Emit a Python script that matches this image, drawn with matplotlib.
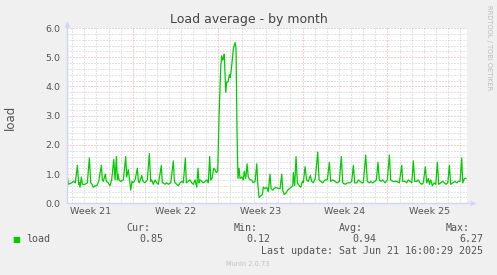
import matplotlib
matplotlib.use('Agg')
import matplotlib.pyplot as plt
from datetime import datetime, timedelta

# days since start of the window, and load average
days = [0.00, 0.14, 0.41, 0.55, 0.71, 0.88, 0.99, 1.04, 1.10, 1.21, 1.29, 1.51, 1.70, 1.87, 1.98,
        2.09, 2.20, 2.33, 2.48, 2.64, 2.86, 2.94, 3.02, 3.19, 3.27, 3.43, 3.57, 3.71, 3.88, 3.99,
        4.10, 4.18, 4.23, 4.32, 4.46, 4.67, 4.87, 4.95, 5.08, 5.22, 5.28, 5.39, 5.50, 5.64, 5.83,
        5.91, 5.99, 6.19, 6.30, 6.46, 6.65, 6.82, 6.93, 7.01, 7.15, 7.29, 7.43, 7.56, 7.81, 7.89,
        7.97, 8.11, 8.25, 8.38, 8.58, 8.80, 8.88, 8.94, 9.08, 9.21, 9.35, 9.49, 9.62, 9.79, 9.87,
        10.03, 10.17, 10.31, 10.45, 10.59, 10.73, 10.83, 10.92, 11.00, 11.14, 11.27, 11.41, 11.55,
        11.68, 11.80, 11.88, 11.99, 12.13, 12.24, 12.34, 12.46, 12.57, 12.71, 12.79, 12.87, 12.95,
        13.00, 13.12, 13.20, 13.31, 13.42, 13.50, 13.61, 13.75, 13.89, 13.97, 14.05, 14.13, 14.22,
        14.30, 14.44, 14.57, 14.65, 14.77, 14.88, 14.98, 15.12, 15.26, 15.40, 15.54, 15.68, 15.76,
        15.87, 16.01, 16.14, 16.22, 16.36, 16.50, 16.63, 16.77, 16.86, 17.00, 17.10, 17.27, 17.46,
        17.60, 17.74, 17.82, 17.95, 18.09, 18.23, 18.37, 18.51, 18.65, 18.70, 18.81, 18.92, 19.03,
        19.19, 19.31, 19.44, 19.52, 19.66, 19.80, 19.93, 20.10, 20.21, 20.35, 20.51, 20.71, 20.82,
        20.96, 21.12, 21.31, 21.50, 21.67, 21.78, 21.95, 22.14, 22.28, 22.49, 22.66, 22.77, 22.96,
        23.15, 23.37, 23.51, 23.65, 23.76, 23.93, 24.06, 24.20, 24.34, 24.47, 24.67, 24.80, 24.97,
        25.08, 25.25, 25.41, 25.55, 25.68, 25.79, 25.93, 26.07, 26.26, 26.45, 26.62, 26.73, 26.90,
        27.09, 27.23, 27.44, 27.64, 27.72, 27.91, 28.05, 28.18, 28.33, 28.47, 28.60, 28.71, 28.88,
        29.01, 29.15, 29.29, 29.42, 29.59, 29.70, 29.84, 29.92, 30.03, 30.17, 30.31, 30.45, 30.58,
        30.69, 30.86, 31.02, 31.16, 31.30, 31.44, 31.57, 31.68, 31.85, 32.04, 32.18, 32.31, 32.45,
        32.59, 32.67, 32.81, 32.95]
load = [1.10, 0.65, 0.70, 0.75, 0.70, 1.30, 0.65, 0.70, 0.55, 0.90, 0.65, 0.65, 0.70, 1.55, 0.70,
        0.65, 0.55, 0.60, 0.60, 0.75, 1.30, 0.80, 0.75, 1.00, 0.75, 0.70, 0.60, 0.80, 1.50, 0.80,
        1.60, 0.80, 1.00, 0.80, 0.75, 0.80, 1.60, 0.90, 1.15, 0.70, 0.45, 0.75, 0.70, 0.80, 1.20,
        0.75, 0.70, 0.95, 0.75, 0.70, 0.80, 1.70, 0.75, 0.80, 0.65, 0.80, 0.70, 0.65, 1.30, 0.70,
        0.70, 0.65, 0.70, 0.65, 0.70, 1.45, 0.80, 0.70, 0.65, 0.60, 0.70, 0.75, 0.70, 1.55, 0.70,
        0.75, 0.80, 0.70, 0.65, 0.80, 0.55, 1.20, 0.70, 0.80, 0.75, 0.70, 0.75, 0.80,
        0.70, 1.60, 0.80, 0.85, 1.20, 1.15, 1.05, 1.10, 3.00, 4.70, 5.05, 4.90, 5.00,
        5.10, 3.80, 4.15, 4.15, 4.40, 4.30, 4.70, 5.30, 5.50, 5.30, 2.50, 0.85, 1.20,
        0.85, 0.90, 0.80, 1.10, 0.85, 1.35, 0.90, 0.80, 0.80, 0.70, 0.75, 1.35, 0.70,
        0.20, 0.25, 0.30, 0.55, 0.50, 0.55, 0.40, 1.00, 0.50, 0.45, 0.50, 0.55, 0.50,
        0.50, 1.00, 0.45, 0.30, 0.35, 0.45, 0.50, 0.55, 0.60, 1.05, 0.60, 1.60, 0.70,
        0.60, 0.55, 0.75, 0.70, 1.25, 0.80, 0.75, 0.95, 0.75, 0.70, 0.85, 1.75, 0.80,
        0.75, 0.70, 0.80, 0.80, 1.40, 0.75, 0.80, 0.75, 0.70, 0.75, 1.60, 0.70, 0.65,
        0.70, 0.70, 0.75, 1.30, 0.70, 0.70, 0.80, 0.75, 0.70, 0.70, 1.65, 0.75, 0.70,
        0.75, 0.70, 0.75, 0.80, 1.40, 0.80, 0.75, 0.80, 0.70, 0.80, 1.65, 0.80, 0.75,
        0.75, 0.75, 0.70, 1.30, 0.75, 0.75, 0.70, 0.80, 0.75, 0.70, 1.45, 0.75, 0.75,
        0.80, 0.70, 0.65, 0.70, 1.25, 0.70, 0.85, 0.65, 0.80, 0.60, 0.70, 0.65, 1.40,
        0.65, 0.70, 0.75, 0.70, 0.65, 0.70, 1.30, 0.65, 0.70, 0.75, 0.70, 0.75, 0.75,
        1.55, 0.70, 0.85, 0.85]

stat_names = ['Cur:', 'Min:', 'Avg:', 'Max:']
stat_values = ['0.85', '0.12', '0.94', '6.27']
yticks = [0, 1, 2, 3, 4, 5, 6]

end = datetime(2025, 6, 21, 13, 0)
start = end - timedelta(days=33)
times = [start + timedelta(days=d) for d in days]

W, H = 497, 275
fig = plt.figure(figsize=(W / 100, H / 100), dpi=100, facecolor='#f0f0f0')
ax = fig.add_axes([66.7 / W, 1 - 203.3 / H, 400 / W, 175.3 / H])
ax.set_facecolor('white')
ax.set_xlim(start, end)
ax.set_ylim(0, 6)

red = '#eaa0a0'
grey = '#c8c8c8'
dots = (0, (1, 2))

# horizontal grid
for i in range(1, 31):
    v = i * 0.2
    major = i % 5 == 0
    ax.axhline(v, color=red if major else grey, lw=0.72, ls=dots, zorder=1)

# vertical grid: every day, red on sundays
day = datetime(start.year, start.month, start.day) + timedelta(days=1)
sundays = []
while day <= end:
    if day.weekday() == 6:
        sundays.append(day)
        ax.axvline(day, color=red, lw=0.72, ls=dots, zorder=1)
    else:
        ax.axvline(day, color=grey, lw=0.72, ls=dots, zorder=1)
    day += timedelta(days=1)

ax.plot(times, load, color='#00cc00', lw=0.9, zorder=3)

# week labels in the middle of each week
mids, labels = [], []
first = sundays[0] - timedelta(days=7)
for k in range(len(sundays) + 1):
    s = first + timedelta(days=7 * k)
    mids.append(s + timedelta(days=3.5))
    labels.append('Week %d' % (s + timedelta(days=1)).isocalendar()[1])
ax.set_xticks(mids)
ax.set_xticklabels(labels)
ax.set_yticks(yticks)
ax.set_yticklabels(['%.1f' % t for t in yticks])
ax.tick_params(axis='both', length=0, labelsize=6.8, colors='#555555')
ax.tick_params(axis='x', pad=2.5)
ax.tick_params(axis='y', pad=4.5)

for s in ['top', 'right']:
    ax.spines[s].set_visible(False)
for s in ['left', 'bottom']:
    ax.spines[s].set_color('#cfd6f8')
    ax.spines[s].set_linewidth(1)
    ax.spines[s].set_zorder(4)
ax.plot([1, 1.015], [0, 0], transform=ax.transAxes, color='#cfd6f8', lw=1, clip_on=False)
ax.plot([1.015], [0], transform=ax.transAxes, marker='>', ms=4, color='#cfd6f8',
        clip_on=False, mec='none')
ax.plot([0, 0], [1, 1.025], transform=ax.transAxes, color='#cfd6f8', lw=1, clip_on=False)
ax.plot([0], [1.025], transform=ax.transAxes, marker='^', ms=4, color='#cfd6f8',
        clip_on=False, mec='none')


def ft(x, y, s, **kw):
    fig.text(x / W, 1 - y / H, s, **kw)


ft(248.5, 19, 'Load average - by month', ha='center', va='center', fontsize=9, color='#444444')
ft(10, 117, 'load', ha='center', va='center', rotation=90, fontsize=8.5, color='#555555')
ft(488.5, 5, 'RRDTOOL / TOBI OETIKER', ha='center', va='top', rotation=270,
   fontsize=4.8, color='#bdbdbd')

mono = dict(family='DejaVu Sans Mono', fontsize=7.2, color='#555555', va='center')
name_x = [150.5, 258, 363, 470]
val_x = [163, 270, 376, 483]
for i in range(4):
    ft(name_x[i], 228, stat_names[i], ha='right', **mono)
    ft(val_x[i], 239.5, stat_values[i], ha='right', **mono)
ft(16.5, 239.5, '\u25a0', ha='center', fontsize=6, color='#00cc00', va='center')
ft(26, 239.5, 'load', ha='left', **mono)
ft(483, 251, 'Last update: Sat Jun 21 16:00:29 2025', ha='right', **mono)
ft(248, 264, 'Munin 2.0.73', ha='center', va='center', fontsize=4.8, color='#c0c0c0')

fig.savefig('out.png', dpi=100, facecolor=fig.get_facecolor())
